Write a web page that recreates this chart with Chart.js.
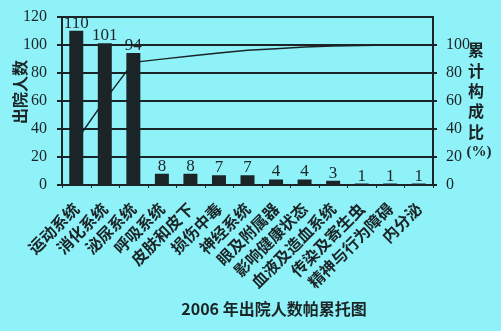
<!DOCTYPE html>
<html><head><meta charset="utf-8">
<script src="https://cdn.jsdelivr.net/npm/chart.js@4"></script>
<style>html,body{margin:0;padding:0;background:#8ef2f8;}canvas{display:block;}</style>
</head><body>
<canvas id="c" width="501" height="331"></canvas>
<script>
const categories = ["运动系统","消化系统","泌尿系统","呼吸系统","皮肤和皮下","损伤中毒","神经系统","眼及附属器","影响健康状态","血液及造血系统","传染及寄生虫","精神与行为障碍","内分泌"];
const patients = [110,101,94,8,8,7,7,4,4,3,1,1,1];
const cumulativePercent = [31.5,60.5,87.4,89.7,92.0,94.0,96.0,97.1,98.3,99.1,99.4,99.7,100];
const leftTicks = [0,20,40,60,80,100,120];
const rightTicks = [0,20,40,60,80,100];
const chartTitle = "2006 年出院人数帕累托图";
const leftTitle = "出院人数";
const rightTitle = ["累","计","构","成","比","(%)"];

const BG = '#8ef2f8';
const INK = '#1b2426';
const CJK = '"Noto Sans CJK SC", sans-serif';
const SERIF = '"Liberation Serif", "DejaVu Serif", serif';

const deco = {
  id: 'deco',
  beforeDraw(chart) {
    const ctx = chart.ctx;
    ctx.save(); ctx.fillStyle = BG; ctx.fillRect(0, 0, chart.width, chart.height); ctx.restore();
  },
  beforeDatasetsDraw(chart) {
    const ctx = chart.ctx;
    const ca = chart.chartArea;
    const y = chart.scales.y, y1 = chart.scales.y1, x = chart.scales.x;
    ctx.save();
    ctx.strokeStyle = INK;
    ctx.lineWidth = 2;
    ctx.beginPath();
    leftTicks.forEach(v => {
      const py = Math.round(y.getPixelForValue(v));
      ctx.moveTo(ca.left - 5, py); ctx.lineTo(ca.right, py);
    });
    rightTicks.forEach(v => {
      const py = Math.round(y1.getPixelForValue(v));
      ctx.moveTo(ca.right, py); ctx.lineTo(ca.right + 4, py);
    });
    ctx.stroke();
    ctx.lineWidth = 1;
    ctx.beginPath();
    for (let i = 0; i <= categories.length; i++) {
      const px = Math.round(x.getPixelForValue(i - 0.5)) + 0.5;
      ctx.moveTo(px, ca.bottom); ctx.lineTo(px, ca.bottom + 3);
    }
    ctx.stroke();
    ctx.restore();
  },
  afterDatasetsDraw(chart) {
    const ctx = chart.ctx;
    const meta = chart.getDatasetMeta(0);
    ctx.save();
    ctx.fillStyle = INK;
    ctx.font = '17px ' + SERIF;
    ctx.textAlign = 'center';
    ctx.textBaseline = 'bottom';
    meta.data.forEach((el, i) => {
      ctx.fillText(String(patients[i]), el.x, el.y + 1);
    });
    ctx.restore();
  },
  afterDraw(chart) {
    const ctx = chart.ctx;
    ctx.save();
    ctx.fillStyle = INK;
    ctx.font = 'bold 16px ' + CJK;
    ctx.textAlign = 'center';
    ctx.textBaseline = 'middle';
    ctx.translate(20, 92);
    ctx.rotate(-Math.PI / 2);
    ctx.fillText(leftTitle, 0, 0);
    ctx.setTransform(1, 0, 0, 1, 0, 0);
    ctx.font = 'bold 16px ' + CJK;
    const ys = [50, 71, 91, 111, 132];
    for (let i = 0; i < 5; i++) ctx.fillText(rightTitle[i], 476, ys[i]);
    ctx.font = 'bold 15px ' + SERIF;
    ctx.fillText(rightTitle[5], 479, 152);
    ctx.font = 'bold 16px ' + CJK;
    ctx.fillText(chartTitle, 274, 309);
    ctx.restore();
  }
};

new Chart(document.getElementById('c'), {
  data: {
    labels: categories,
    datasets: [
      { type: 'bar', data: patients, backgroundColor: INK, borderWidth: 0, barPercentage: 0.49, categoryPercentage: 1, yAxisID: 'y', order: 1 },
      { type: 'line', data: cumulativePercent, borderColor: INK, borderWidth: 1.5, pointRadius: 0, tension: 0, fill: false, yAxisID: 'y1', order: 2 }
    ]
  },
  options: {
    responsive: false,
    devicePixelRatio: 1,
    animation: false,
    layout: { padding: { top: 14, left: 0, right: 0, bottom: 40 } },
    plugins: { legend: { display: false }, tooltip: { enabled: false }, title: { display: false } },
    scales: {
      x: {
        offset: true,
        grid: { display: false },
        border: { display: true, color: INK, width: 2 },
        ticks: { color: INK, font: { family: CJK, size: 16, weight: 'bold' }, minRotation: 45, maxRotation: 45, autoSkip: false, padding: 6 },
        afterFit(s) { s.height = 106; }
      },
      y: {
        position: 'left', min: 0, max: 120,
        afterBuildTicks(s) { s.ticks = leftTicks.map(v => ({ value: v })); },
        grid: { display: false },
        border: { display: true, color: INK, width: 2 },
        ticks: { color: INK, font: { family: SERIF, size: 16 }, padding: 7 },
        afterFit(s) { s.width = 62; }
      },
      y1: {
        position: 'right', min: 0, max: 120,
        afterBuildTicks(s) { s.ticks = rightTicks.map(v => ({ value: v })); },
        grid: { display: false },
        border: { display: true, color: INK, width: 2 },
        ticks: { color: INK, font: { family: SERIF, size: 16 }, padding: 5 },
        afterFit(s) { s.width = 68; }
      }
    }
  },
  plugins: [deco]
});
</script>
</body></html>
